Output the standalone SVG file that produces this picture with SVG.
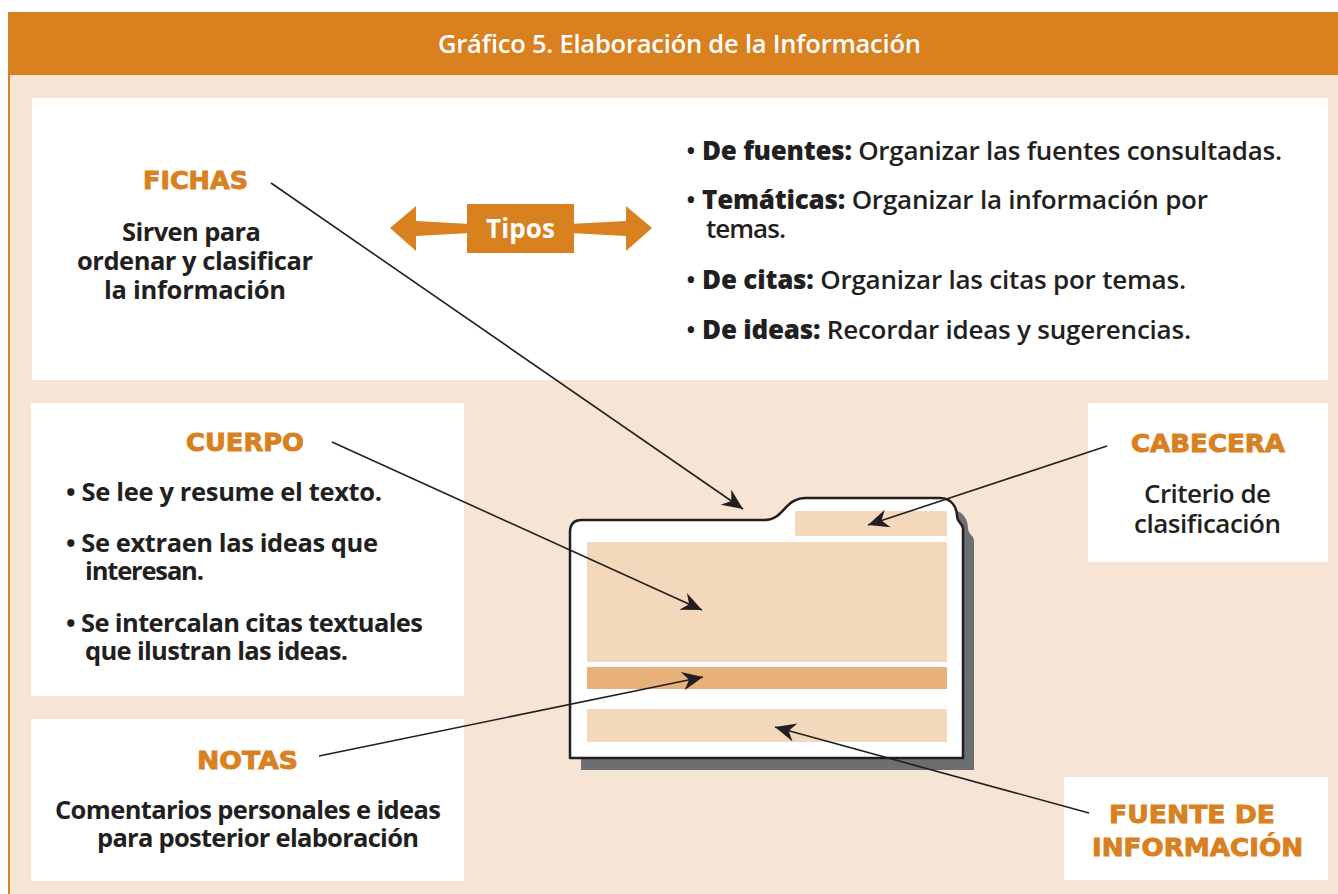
<svg xmlns="http://www.w3.org/2000/svg" width="1338" height="894" viewBox="0 0 1338 894">
<style>
.hd{font-family:"DejaVu Sans","Liberation Sans",sans-serif;font-weight:bold;font-size:25px;fill:#d98020;stroke:#d98020;stroke-width:0.9}
.bd{font-family:"Open Sans","Noto Sans","Liberation Sans",sans-serif;font-weight:700;font-size:25.5px;fill:#231f20}
.md{font-family:"Open Sans","Noto Sans","Liberation Sans",sans-serif;font-weight:600;font-size:26px;fill:#231f20}
.bk{font-weight:800}
.box{fill:#ffffff}
.con{stroke:#231f20;stroke-width:1.6;fill:none;marker-end:url(#ah)}
</style>
<defs>
<marker id="ah" markerUnits="userSpaceOnUse" markerWidth="24" markerHeight="24" viewBox="-20 -10 22 20" refX="0" refY="0" orient="auto">
<path d="M0,0 L-19,-8.5 L-13,0 L-19,8.5 Z" fill="#231f20"/>
</marker>
<path id="folder" d="M570,532 Q570,520 582,520 L765,520 C784,520 784,498 806,498 L940,498 C952,498 957,508 957,516 C957,522 962,523 963,528 L963,758 L570,758 Z"/>
</defs>
<rect x="0" y="0" width="1338" height="894" fill="#ffffff"/>
<rect x="8" y="75" width="1330" height="819" fill="#f6e5d4"/>
<line x1="9" y1="75" x2="9" y2="894" stroke="#d98020" stroke-width="2"/>
<g id="header">
<rect x="8" y="12" width="1330" height="63" fill="#d9801f"/>
<text x="438" y="53" textLength="483" style="font-family:'Open Sans','Noto Sans','Liberation Sans',sans-serif;font-weight:600;font-size:25.5px;fill:#ffffff">Gráfico 5. Elaboración de la Información</text>
</g>
<g id="fichas">
<rect class="box" x="32" y="98" width="1296" height="282"/>
<text class="hd" x="143" y="189" textLength="105" lengthAdjust="spacingAndGlyphs">FICHAS</text>
<text class="bd" x="122" y="241" textLength="139">Sirven para</text>
<text class="bd" x="77" y="270" textLength="236">ordenar y clasificar</text>
<text class="bd" x="104" y="299" textLength="182">la información</text>
</g>
<g id="tipos">
<path d="M390,228 L416,206 L416,221 L470,224 L570,224 L626,221 L626,206 L652,228 L626,251 L626,236 L570,233 L470,233 L416,236 L416,251 Z" fill="#d9801f"/>
<rect x="467" y="204" width="107" height="49" fill="#d9801f"/>
<text x="486" y="238" textLength="69" style="font-family:'Open Sans','Noto Sans','Liberation Sans',sans-serif;font-weight:700;font-size:26px;fill:#ffffff">Tipos</text>
</g>
<g id="tipos-lista">
<text class="md" x="686" y="160" textLength="596">• <tspan class="bk">De fuentes:</tspan> Organizar las fuentes consultadas.</text>
<text class="md" x="686" y="209" textLength="522">• <tspan class="bk">Temáticas:</tspan> Organizar la información por</text>
<text class="md" x="706" y="238" textLength="80">temas.</text>
<text class="md" x="686" y="289" textLength="500">• <tspan class="bk">De citas:</tspan> Organizar las citas por temas.</text>
<text class="md" x="686" y="339" textLength="505">• <tspan class="bk">De ideas:</tspan> Recordar ideas y sugerencias.</text>
</g>
<g id="cuerpo">
<rect class="box" x="31" y="403" width="433" height="293"/>
<text class="hd" x="186" y="451" textLength="118" lengthAdjust="spacingAndGlyphs">CUERPO</text>
<text class="bd" x="66" y="501" textLength="316">• Se lee y resume el texto.</text>
<text class="bd" x="66" y="552" textLength="312">• Se extraen las ideas que</text>
<text class="bd" x="85" y="580" textLength="119">interesan.</text>
<text class="bd" x="66" y="632" textLength="357">• Se intercalan citas textuales</text>
<text class="bd" x="85" y="660" textLength="263">que ilustran las ideas.</text>
</g>
<g id="notas">
<rect class="box" x="31" y="719" width="433" height="162"/>
<text class="hd" x="197" y="769" textLength="101" lengthAdjust="spacingAndGlyphs">NOTAS</text>
<text class="bd" x="55" y="819" textLength="386">Comentarios personales e ideas</text>
<text class="bd" x="97" y="847" textLength="322">para posterior elaboración</text>
</g>
<g id="cabecera">
<rect class="box" x="1088" y="403" width="240" height="159"/>
<text class="hd" x="1131" y="452" textLength="154" lengthAdjust="spacingAndGlyphs">CABECERA</text>
<text class="md" x="1144" y="503" textLength="127">Criterio de</text>
<text class="md" x="1134" y="533" textLength="147">clasificación</text>
</g>
<g id="fuente">
<rect class="box" x="1064" y="777" width="264" height="103"/>
<text class="hd" x="1109" y="823" textLength="166" lengthAdjust="spacingAndGlyphs">FUENTE DE</text>
<text class="hd" x="1092" y="856" textLength="211" lengthAdjust="spacingAndGlyphs">INFORMACIÓN</text>
</g>
<g id="ficha-dibujo">
<use href="#folder" transform="translate(11,12)" fill="#6d6e71"/>
<use href="#folder" fill="#ffffff" stroke="#231f20" stroke-width="2.5" stroke-linejoin="round"/>
<rect x="795" y="511" width="152" height="25" fill="#f3d8bb"/>
<rect x="587" y="542" width="360" height="120" fill="#f3d8bb"/>
<rect x="587" y="667" width="360" height="22" fill="#e8b17a"/>
<rect x="587" y="709" width="360" height="33" fill="#f3d8bb"/>
</g>
<g id="connectors">
<line class="con" x1="271" y1="183" x2="743" y2="509"/>
<line class="con" x1="1107" y1="446" x2="868" y2="525"/>
<line class="con" x1="332" y1="442" x2="702" y2="610"/>
<line class="con" x1="319" y1="756" x2="703" y2="677"/>
<line class="con" x1="1089" y1="813" x2="775" y2="727"/>
</g>
</svg>
